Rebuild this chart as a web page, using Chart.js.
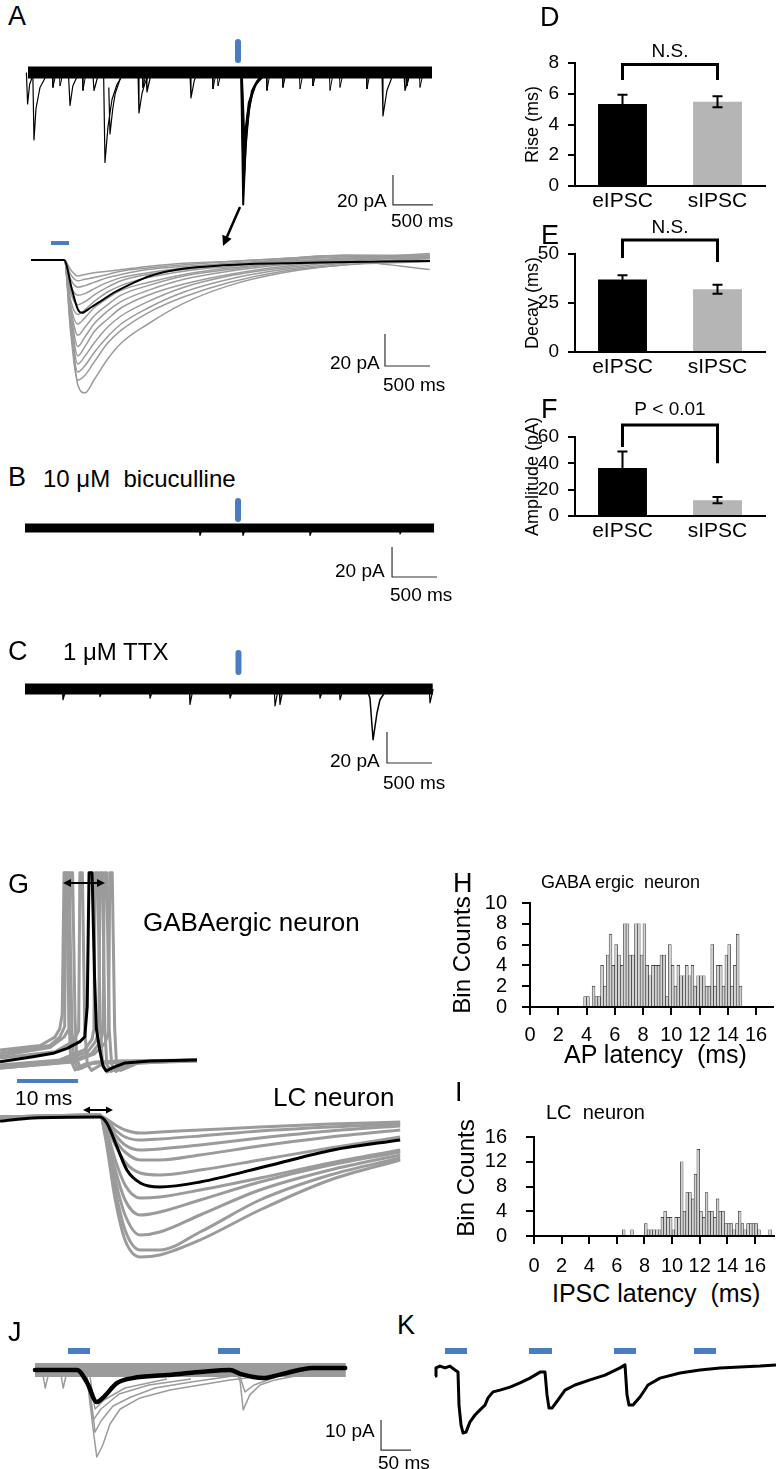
<!DOCTYPE html>
<html>
<head>
<meta charset="utf-8">
<script src="https://cdn.jsdelivr.net/npm/chart.js@4.4.1/dist/chart.umd.min.js"></script>
<style>
  body { margin: 0; background: #fff; }
  #page { position: relative; width: 776px; height: 1469px; background: #fff; overflow: hidden; }
  canvas { position: absolute; }
</style>
</head>
<body>
<div id="page"></div>
<script>
// ---- data (time in ms, current in pA / voltage in mV) ----

// D, E, F  bar panels
const groups = ['eIPSC', 'sIPSC']
const riseMean = [5.33, 5.48]
const riseErr = [0.6, 0.35]
const decayMean = [37.0, 32.0]
const decayErr = [2.1, 2.3]
const ampMean = [36.5, 12.0]
const ampErr = [12.5, 2.4]

// H, I  latency histograms (0.2 ms bins)
const hStart = 3.8
const hCounts = [1,1,0,2,1,1,4,2,5,7, 4,6,5,4,8,8,5,5,8,8, 5,8,4,3,4,4,4,5,5,1,
  6,4,2,4,3,3,4,3,4,2, 3,3,3,2,2,6,2,4,4,2, 5,6,2,4,7,2]
const iStart = 6.4
const iCounts = [1,0,0,1,0,0,0,0, 2,1,1,1,1,1,3,4,3,3, 1,3,3,12,4,7,7,6,10,14,
  4,3,7,4,4,3,6,4,4,2, 2,2,1,2,4,2,1,2,2,2, 2,1,0,0,0,1]

// A, top sweep
const aTopBand = [[0, 0], [5050, 0]]
const aTopSpont = [
  [[-20, 0], [-5, -21], [20, -8], [60, -2]],
  [[60, 0], [75, -45], [100, -24], [150, -10], [230, -2]],
  [[505, 0], [525, -22], [560, -9], [620, -2]],
  [[810, 0], [825, -12], [870, -3]],
  [[945, 0], [962, -60], [1000, -36], [1050, -18], [1112, -8], [1180, -2]],
  [[1010, -10], [1025, -41], [1060, -24], [1090, -14], [1160, -3]],
  [[1375, 0], [1387, -27], [1425, -14], [1462, -7], [1520, -1]],
  [[1475, 0], [1487, -13], [1530, -3]],
  [[2025, 0], [2037, -17], [2080, -5], [2130, 0]],
  [[4425, 0], [4437, -29], [4487, -12], [4550, -3]],
  [[4700, 0], [4712, -12], [4760, -3]]
]
const aTopSmall = [[312, -10], [400, -9], [687, -12], [1437, -10], [2312, -11], [2375, -9],
  [2987, -12], [3187, -10], [3400, -11], [3562, -9], [3775, -12], [3900, -10], [4237, -11], [4737, -9], [4900, -10]]
const aTopEvoked = [
  [[2665, 0], [2690, -88], [2720, -50], [2760, -25], [2820, -10], [2900, -3]],
  [[2668, 0], [2695, -75], [2730, -40], [2780, -18], [2860, -6], [2950, -2]],
  [[2670, 0], [2700, -60], [2740, -30], [2800, -12], [2900, -4]],
  [[2672, 0], [2705, -45], [2760, -20], [2840, -8], [2950, -2]]
]

// A, evoked IPSCs overlaid
const aLowT = [0, 370, 440, 520, 600, 700, 850, 1000, 1300, 1700, 2200, 2800, 3500, 4430]
const aLowGray = [
  [0, 0, -40, -78, -83, -75, -62, -52, -40, -27, -16, -8, -3, -1],
  [0, 0, -45, -75, -72, -64, -52, -44, -33, -23, -14, -7, -3, 2],
  [0, 0, -42, -70, -66, -58, -48, -40, -30, -20, -12, -6, -2, 1],
  [0, 0, -38, -65, -60, -52, -42, -35, -26, -17, -10, -5, -1, 3],
  [0, 0, -35, -60, -54, -45, -37, -30, -22, -15, -9, -4, -1, -6],
  [0, 0, -32, -54, -48, -40, -32, -26, -19, -12, -7, -3, 0, 1],
  [0, 0, -30, -47, -42, -35, -28, -22, -16, -10, -6, -2, 0, 2],
  [0, 0, -28, -40, -36, -30, -24, -19, -14, -9, -5, -2, 1, 3],
  [0, 0, -25, -34, -31, -26, -20, -16, -11, -7, -4, -1, 1, 2],
  [0, 0, -20, -28, -26, -22, -17, -13, -9, -6, -3, -1, 1, 4],
  [0, 0, -16, -22, -21, -18, -14, -11, -8, -5, -3, 0, 2, 3],
  [0, 0, -12, -17, -16, -14, -11, -9, -6, -4, -2, 0, 2, 1],
  [0, 0, -9, -13, -12, -11, -9, -7, -5, -3, -1, 1, 3, 2],
  [0, 0, -6, -10, -9, -8, -7, -6, -4, -2, -1, 1, 3, 3]
]
const aAvgT = [0, 367, 456, 522, 567, 656, 767, 933, 1133, 1322, 1600, 1878, 2433, 2989, 3544, 4433]
const aAvgV = [0, 0, -18.75, -31, -33, -30, -26, -20, -14.4, -10, -6.25, -4.4, -2.5, -1.9, -1.25, -0.6]

// B, C
const bBand = [[0, 0], [4545, 0]]
const bSmall = [[1944, -5], [2422, -5], [3167, -5], [4167, -4]]
const cBand = [[0, 0], [4530, 0]]
const cEvent = [[3800, 0], [3833, -6], [3867, -33], [3911, -15.6], [3944, -7], [4000, -2], [4050, 0]]
const cSmall = [[422, -7], [833, -5], [1389, -6], [1833, -10], [2278, -6], [2778, -11], [2833, -10], [3278, -6], [3500, -7], [4500, -9]]

// G, GABAergic neuron spikes (ms, mV)
const gBlack = [[0, -60.8], [5.4, -58.4], [8.7, -56.8], [11, -54.4], [13.1, -51.2], [13.9, -48.8], [14.3, -34.4],
  [14.6, 30], [15.1, 30], [15.5, -20], [15.8, -45], [16.4, -56], [16.9, -63], [17.4, -65.3], [18.4, -63.8],
  [20.5, -61.4], [24.6, -60.5], [32.3, -60]]
const gGray = [
  [[0, -55.2], [6.6, -53], [9.0, -49], [9.8, -45], [10.2, -38], [10.5, 30], [10.9, 30], [11.3, -40], [11.6, -60], [12.3, -64.8], [13.9, -62], [19, -60.5], [32.3, -60]],
  [[0, -56.6], [8.2, -53], [9.8, -49], [10.6, -44], [10.8, 30], [11.3, 30], [11.8, -45], [12.1, -60], [12.8, -64.5], [14.8, -61.5], [32.3, -60]],
  [[0, -58], [8.2, -54], [10.5, -49], [11.3, -45], [11.5, 30], [11.9, 30], [12.3, -40], [12.6, -60], [13.3, -64], [15.5, -61], [32.3, -60]],
  [[0, -59], [9.0, -56], [12.0, -51], [12.9, -46], [13.1, 30], [13.5, 30], [13.9, -45], [14.3, -62], [15.0, -65], [17, -61.5], [32.3, -60]],
  [[0, -62.4], [9.8, -60], [13.9, -55], [15.1, -50], [15.4, -45], [15.6, 30], [16.0, 30], [16.4, -40], [16.8, -62], [17.6, -65.8], [19.7, -62], [32.3, -60]],
  [[0, -63], [9.8, -61], [14.4, -56], [15.7, -51], [16.2, -46], [16.4, 30], [16.8, 30], [17.2, -45], [17.5, -62], [18.2, -65.5], [21.3, -61.5], [32.3, -60]],
  [[0, -64], [11, -61], [15, -57], [16.5, -51], [16.9, -46], [17.1, 30], [17.5, 30], [17.9, -45], [18.3, -62], [19, -65.5], [22, -61.5], [32.3, -60.5]],
  [[0, -63.8], [12, -61], [15.5, -57], [17.2, -52], [17.8, -47], [18.0, 30], [18.4, 30], [18.8, -45], [19.1, -62], [19.8, -65], [23, -61], [32.3, -60.5]]
]

// G, LC neuron IPSCs
const lcBlack = [[0, -2], [5.4, -0.5], [16.4, 0], [17.5, -3], [19.2, -15], [20.8, -26.5], [23.0, -33], [26.2, -35],
  [32.8, -32.5], [43.8, -24.5], [54.6, -16.5], [65.6, -11.5]]
const lcT = [0, 16.4, 17.2, 18.9, 20.5, 23.0, 26.2, 32.8, 42.6, 54.1, 65.6]
const lcGray = [
  [0, 0.5, -0.5, -4, -6.5, -8, -7.5, -6.5, -5, -3.5, -2.5],
  [0, 0.5, -1, -6.5, -10, -11.5, -11, -9.5, -7, -5, -3.5],
  [0, 0.5, -1.5, -9, -14, -16.5, -16, -14, -10.5, -7, -4.5],
  [0, 0.5, -2, -11.5, -17.5, -21.5, -21.5, -19, -14.5, -10, -6.5],
  [0, 0.5, -2.5, -14, -22.5, -28, -29, -26.5, -21.5, -15.5, -10],
  [0, 1, -4, -21.5, -34, -40.5, -40, -36.5, -30.5, -23, -16.5],
  [0, 1, -5, -26.5, -41.5, -49, -47.5, -41.5, -32.5, -24, -17.5],
  [0, 1, -6.5, -31.5, -49, -59, -57.5, -49, -36.5, -26.5, -19],
  [0, 1, -7.5, -36.5, -56.5, -66.5, -66.5, -57.5, -41.5, -29, -20.5],
  [0, 1, -9, -41.5, -61.5, -70, -69, -61.5, -46.5, -31.5, -21.5]
]

// J
const jBlack = [[0, 0], [70, 0], [87, -4.3], [103, -10.7], [113, -9.3], [137, -4.3], [163, -2.7], [220, -1.7],
  [275, -0.7], [325, 0], [342, -1.3], [380, -2.7], [413, -1.3], [463, 0.7], [517, 0.7]]
const jBand = [[0, 0], [518, 0]]
const jGray = [
  [[80, 0], [87, -3.3], [97, -20], [103, -29], [113, -25], [125, -18], [142, -13], [175, -9.3], [225, -6.7], [275, -5], [325, -3.3], [380, -2]],
  [[85, 0], [95, -12], [100, -20.7], [110, -17], [130, -12], [160, -9], [200, -6], [260, -4], [330, -2]],
  [[85, 0], [97, -16.7], [110, -13], [140, -8], [190, -5], [260, -3]],
  [[90, 0], [100, -13], [115, -10], [150, -6], [220, -3]],
  [[335, 0], [342, -4], [347, -13.3], [358, -8.3], [375, -5], [400, -3.3], [442, -1.7]],
  [[338, 0], [350, -7.3], [365, -5], [400, -2.5]],
  [[12, 0], [17, -6], [24, 0]],
  [[42, 0], [47, -6], [54, 0]]
]

// K
const kTrace = [[0, -2], [2, 0.7], [10, 1.3], [20, 0.7], [30, 1.3], [40, 0], [46, -0.7], [48, -11.7], [52, -18.3],
  [56, -21], [62, -20.7], [70, -17.3], [80, -15], [90, -13.3], [100, -11.7], [106, -9.3], [116, -7.3], [130, -6.7],
  [150, -5.7], [170, -4.3], [190, -2.7], [210, -0.7], [220, -0.7], [224, -8.3], [228, -12.7], [234, -12.7],
  [246, -10], [260, -6.7], [280, -5], [310, -3.3], [340, -1.7], [370, 0.7], [380, 1.7], [384, -8.3], [388, -11.7],
  [396, -11.7], [410, -9], [426, -5], [450, -2.7], [490, -1], [530, 0], [570, 0.7], [610, 1], [650, 1.3], [682, 1.7]]
const kStim = [[20, 64], [188, 234], [358, 402], [518, 562]]

// ---- drawing ----
const FONT = '"Liberation Sans", Arial, Helvetica, sans-serif'
const STIM = '#4a7dbf'
const GRAY = '#9b9b9b'
Chart.defaults.font.family = FONT
Chart.defaults.color = '#000'

const page = document.getElementById('page')

function mount (left, top, w, h) {
  const c = document.createElement('canvas')
  c.width = w
  c.height = h
  c.style.left = left + 'px'
  c.style.top = top + 'px'
  c.style.width = w + 'px'
  c.style.height = h + 'px'
  page.appendChild(c)
  return c
}

function txt (s, left, capTop, size) {
  const d = document.createElement('div')
  d.textContent = s
  d.style.cssText = 'position:absolute;left:' + left + 'px;top:' + (capTop - 0.13 * size) +
    'px;font-size:' + size + 'px;font-family:' + FONT + ';line-height:1;white-space:pre;color:#000'
  page.appendChild(d)
}

// rotated (reads bottom to top), centred on cx, cy
function vtxt (s, cx, cy, size) {
  const d = document.createElement('div')
  d.textContent = s
  d.style.cssText = 'position:absolute;left:' + cx + 'px;top:' + cy + 'px;font-size:' + size +
    'px;font-family:' + FONT + ';line-height:1;white-space:pre;color:#000;transform:translate(-50%,-50%) rotate(-90deg)'
  page.appendChild(d)
}

function pts (arr) { return arr.map(p => ({ x: p[0], y: p[1] })) }

function line (arr, color, width, extra) {
  return Object.assign({ data: pts(arr), borderColor: color, borderWidth: width, pointRadius: 0,
    fill: false, tension: 0, borderJoinStyle: 'round' }, extra || {})
}

function spikes (list, dur) {
  // small spontaneous events as [time, peak]
  return list.map(e => [[e[0] - 8, 0], [e[0], e[1]], [e[0] + dur, 0]])
}

// datasets listed bottom -> top
function traceChart (box, xr, yr, sets) {
  return new Chart(mount(box[0], box[1], box[2], box[3]), {
    type: 'line',
    data: { datasets: sets.slice().reverse() },
    options: {
      responsive: false, animation: false, events: [],
      layout: { padding: 0 },
      scales: {
        x: { type: 'linear', display: false, min: xr[0], max: xr[1] },
        y: { type: 'linear', display: false, min: yr[0], max: yr[1] }
      },
      plugins: { legend: { display: false }, tooltip: { enabled: false } }
    }
  })
}

function scaleBar (t, y1, y2, dt) {
  return line([[t, y1], [t, y2], [t + dt, y2]], '#333', 1.2, { borderJoinStyle: 'miter' })
}
function stim (t1, t2, y, w) {
  return line([[t1, y], [t2, y]], STIM, w, { borderCapStyle: 'butt' })
}

// A top
traceChart([24, 35, 416, 185], [-50, 5150], [-98.33, 25], [
  line(aTopBand, '#000', 12, { borderCapStyle: 'butt' }),
  ...aTopSpont.map(e => line(e, '#000', 1.2)),
  ...spikes(aTopSmall, 40).map(e => line(e, '#000', 1)),
  ...aTopEvoked.map(e => line(e, '#000', 2)),
  line([[2625, 20.3], [2625, 8.3]], STIM, 6, { borderCapStyle: 'butt' }),
  scaleBar(4562, -68.3, -88.3, 500)
])

// A bottom
traceChart([24, 236, 416, 160], [-77.78, 4544.4], [-85, 15], [
  ...aLowGray.map(v => line(v.map((y, i) => [aLowT[i], y]), GRAY, 1.5, { cubicInterpolationMode: 'monotone' })),
  line(aAvgT.map((t, i) => [t, aAvgV[i]]), '#000', 2, { cubicInterpolationMode: 'monotone' }),
  stim(222, 422, 10.6, 4),
  scaleBar(3933, -46.25, -66.25, 500)
])

// B
traceChart([20, 495, 420, 100], [-55.56, 4611], [-44.67, 22], [
  line(bBand, '#000', 9, { borderCapStyle: 'butt' }),
  ...spikes(bSmall, 30).map(e => line(e, '#000', 1.2)),
  line([[2367, 18], [2367, 6]], STIM, 6, { borderCapStyle: 'butt' }),
  scaleBar(4078, -12.67, -32.67, 500)
])

// C
traceChart([20, 640, 420, 130], [-55.56, 4611], [-52.65, 31.85], [
  line(cBand, '#000', 11, { borderCapStyle: 'butt' }),
  ...spikes(cSmall, 35).map(e => line(e, '#000', 1.2)),
  line(cEvent, '#000', 1.5),
  line([[2372, 23.4], [2372, 11.05]], STIM, 6, { borderCapStyle: 'butt' }),
  scaleBar(4022, -27.95, -48.1, 500)
])

// G top: spikes
traceChart([0, 865, 200, 222], [0, 32.79], [-72.98, 33.75], [
  ...gGray.map(e => line(e, GRAY, 3)),
  line(gBlack, '#000', 3),
  stim(2.79, 12.79, -70.1, 4)
])

// G bottom: LC IPSCs
traceChart([0, 1100, 405, 170], [0, 66.39], [-76.5, 8.5], [
  ...lcGray.map(v => line(v.map((y, i) => [lcT[i], y]), GRAY, 3, { cubicInterpolationMode: 'monotone' })),
  line(lcBlack, '#000', 3, { cubicInterpolationMode: 'monotone' })
])

// J
traceChart([30, 1340, 390, 129], [-8.33, 641.67], [-33, 10], [
  line(jBand, GRAY, 14, { borderCapStyle: 'butt' }),
  ...jGray.map(e => line(e, GRAY, 1.5)),
  line(jBlack, '#000', 4.5, { cubicInterpolationMode: 'monotone', borderCapStyle: 'round' }),
  stim(55, 91.7, 6.33, 6),
  stim(305, 341.7, 6.33, 6),
  scaleBar(576.7, -16.7, -26.7, 50)
])

// K
traceChart([430, 1340, 346, 129], [-10, 682], [-33, 10], [
  line(kTrace, '#000', 3),
  ...kStim.map(s => stim(s[0], s[1], 6.33, 6))
])

// bar panels
function decor (o) {
  return {
    id: 'decor',
    afterDatasetsDraw (chart) {
      const { ctx, scales: { x, y } } = chart
      ctx.save()
      ctx.strokeStyle = '#000'
      ctx.lineWidth = 2
      o.mean.forEach((m, i) => {
        const cx = x.getPixelForValue(i)
        const t = y.getPixelForValue(m + o.err[i])
        const b = y.getPixelForValue(m - o.err[i])
        ctx.beginPath()
        ctx.moveTo(cx, t); ctx.lineTo(cx, b)
        ctx.moveTo(cx - 5, t); ctx.lineTo(cx + 5, t)
        ctx.moveTo(cx - 5, b); ctx.lineTo(cx + 5, b)
        ctx.stroke()
      })
      const x0 = x.getPixelForValue(0)
      const x1 = x.getPixelForValue(1)
      const top = y.getPixelForValue(o.bracket[1])
      ctx.lineWidth = 3
      ctx.lineJoin = 'miter'
      ctx.beginPath()
      ctx.moveTo(x0, y.getPixelForValue(o.bracket[0]))
      ctx.lineTo(x0, top)
      ctx.lineTo(x1, top)
      ctx.lineTo(x1, y.getPixelForValue(o.bracket[2]))
      ctx.stroke()
      ctx.fillStyle = '#000'
      ctx.font = '19px ' + FONT
      ctx.textAlign = 'center'
      ctx.textBaseline = 'middle'
      ctx.fillText(o.sig, (x0 + x1) / 2, y.getPixelForValue(o.bracket[3]))
      ctx.restore()
    }
  }
}

function barChart (box, o) {
  new Chart(mount(box[0], box[1], box[2], box[3]), {
    type: 'bar',
    data: {
      labels: groups,
      datasets: [{ data: o.mean, backgroundColor: ['#000', '#b5b5b5'], barPercentage: 0.515, categoryPercentage: 1 }]
    },
    options: {
      responsive: false, animation: false, events: [],
      layout: { padding: { top: o.padTop, right: 11, left: 0, bottom: 0 } },
      plugins: { legend: { display: false }, tooltip: { enabled: false } },
      scales: {
        x: {
          grid: { display: false, drawTicks: false },
          border: { color: '#000', width: 2 },
          ticks: { color: '#000', font: { size: 21 }, padding: 3 },
          afterFit: s => { s.height = 30 }
        },
        y: {
          min: 0, max: o.max,
          ticks: { stepSize: o.step, autoSkip: false, color: '#000', font: { size: 19 }, padding: 9 },
          grid: { drawOnChartArea: false, tickLength: 7, color: '#000', lineWidth: 2 },
          border: { color: '#000', width: 2 },
          title: { display: true, text: o.title, color: '#000', font: { size: 18 }, padding: { top: 2, bottom: 0 } },
          afterFit: s => { s.width = 55 }
        }
      }
    },
    plugins: [decor(o)]
  })
}

barChart([520, 30, 256, 186], { mean: riseMean, err: riseErr, max: 8, step: 2, padTop: 33,
  title: 'Rise (ms)', sig: 'N.S.', bracket: [6.9, 7.9, 6.9, 8.75] })
barChart([520, 215, 256, 167], { mean: decayMean, err: decayErr, max: 50, step: 25, padTop: 39,
  title: 'Decay (ms)', sig: 'N.S.', bracket: [48, 57.1, 45.9, 63.3] })
barChart([520, 395, 256, 151], { mean: ampMean, err: ampErr, max: 60, step: 20, padTop: 42,
  title: 'Amplitude (pA)', sig: 'P < 0.01', bracket: [52.4, 69.1, 40, 80.5] })

// histograms
function histChart (box, start, counts, o) {
  const data = counts.map((c, i) => ({ x: +(start + 0.2 * i + 0.1).toFixed(2), y: c }))
  new Chart(mount(box[0], box[1], box[2], box[3]), {
    type: 'bar',
    data: { datasets: [{ data, backgroundColor: '#d2d2d2', borderColor: '#222', borderWidth: 0.6,
      barPercentage: 1, categoryPercentage: 1 }] },
    options: {
      responsive: false, animation: false, events: [],
      layout: { padding: { top: o.padTop, right: o.padRight, left: 0, bottom: 0 } },
      plugins: { legend: { display: false }, tooltip: { enabled: false } },
      scales: {
        x: {
          type: 'linear', min: 0, max: o.xMax, offset: false,
          ticks: { stepSize: 2, includeBounds: false, autoSkip: false, maxRotation: 0, padding: o.xPad, color: '#000', font: { size: 20 } },
          grid: { drawOnChartArea: false, offset: false, tickLength: 8, color: '#000', lineWidth: 2 },
          border: { color: '#000', width: 2 },
          afterFit: s => { s.height = 40 }
        },
        y: {
          min: 0, max: o.yMax,
          ticks: { stepSize: o.yStep, autoSkip: false, padding: o.yPad, color: '#000', font: { size: 20 } },
          grid: { drawOnChartArea: false, tickLength: 8, color: '#000', lineWidth: 2 },
          border: { color: '#000', width: 2 },
          afterFit: s => { s.width = 85 }
        }
      }
    }
  })
}

histChart([445, 876, 331, 171], hStart, hCounts, { padTop: 15, padRight: 3, xMax: 17.2, yMax: 10, yStep: 2, yPad: 15, xPad: 8 })
histChart([449, 1106, 327, 170], iStart, iCounts, { padTop: 16, padRight: 0, xMax: 17.4, yMax: 16, yStep: 4, yPad: 19, xPad: 10 })
vtxt('Bin Counts', 462, 955, 24)
vtxt('Bin Counts', 466, 1178, 24)
txt('AP latency  (ms)', 564, 1045, 25)
txt('IPSC latency  (ms)', 552, 1284, 25)

// labels
txt('A', 8, 7, 27)
txt('D', 540, 8, 27)
txt('E', 541, 226, 27)
txt('F', 541, 400, 27)
txt('B', 8, 468, 27)
txt('C', 8, 642, 27)
txt('G', 8, 875, 27)
txt('H', 453, 874, 27)
txt('I', 455, 1083, 27)
txt('J', 8, 1323, 27)
txt('K', 397, 1316, 27)
txt('10 \u03bcM  bicuculline', 43, 470, 24)
txt('1 \u03bcM TTX', 63, 643, 24)
txt('GABAergic neuron', 143, 912, 26)
txt('LC neuron', 273, 1087, 26)
txt('10 ms', 15, 1090, 21)
txt('GABA ergic  neuron', 541, 875, 18)
txt('LC  neuron', 546, 1105, 20)
txt('20 pA', 337, 193, 19)
txt('500 ms', 391, 213, 19)
txt('20 pA', 330, 355, 19)
txt('500 ms', 383, 377, 19)
txt('20 pA', 335, 563, 19)
txt('500 ms', 390, 587, 19)
txt('20 pA', 330, 753, 19)
txt('500 ms', 383, 775, 19)
txt('10 pA', 325, 1423, 19)
txt('50 ms', 378, 1455, 19)

// arrows
const svgNS = 'http://www.w3.org/2000/svg'
const svg = document.createElementNS(svgNS, 'svg')
svg.setAttribute('width', 776)
svg.setAttribute('height', 1469)
svg.style.cssText = 'position:absolute;left:0;top:0'
svg.innerHTML =
  '<line x1="240" y1="207" x2="226" y2="239" stroke="#000" stroke-width="2.5"/>' +
  '<polygon points="223,246 231.6,238.8 222.4,234.8" fill="#000"/>' +
  '<line x1="69" y1="883" x2="99" y2="883" stroke="#000" stroke-width="2"/>' +
  '<polygon points="63,883 71,879 71,887" fill="#000"/><polygon points="105,883 97,879 97,887" fill="#000"/>' +
  '<line x1="88" y1="1110" x2="108" y2="1110" stroke="#000" stroke-width="2"/>' +
  '<polygon points="83,1110 90,1106.5 90,1113.5" fill="#000"/><polygon points="113,1110 106,1106.5 106,1113.5" fill="#000"/>'
page.appendChild(svg)
</script>
</body>
</html>
